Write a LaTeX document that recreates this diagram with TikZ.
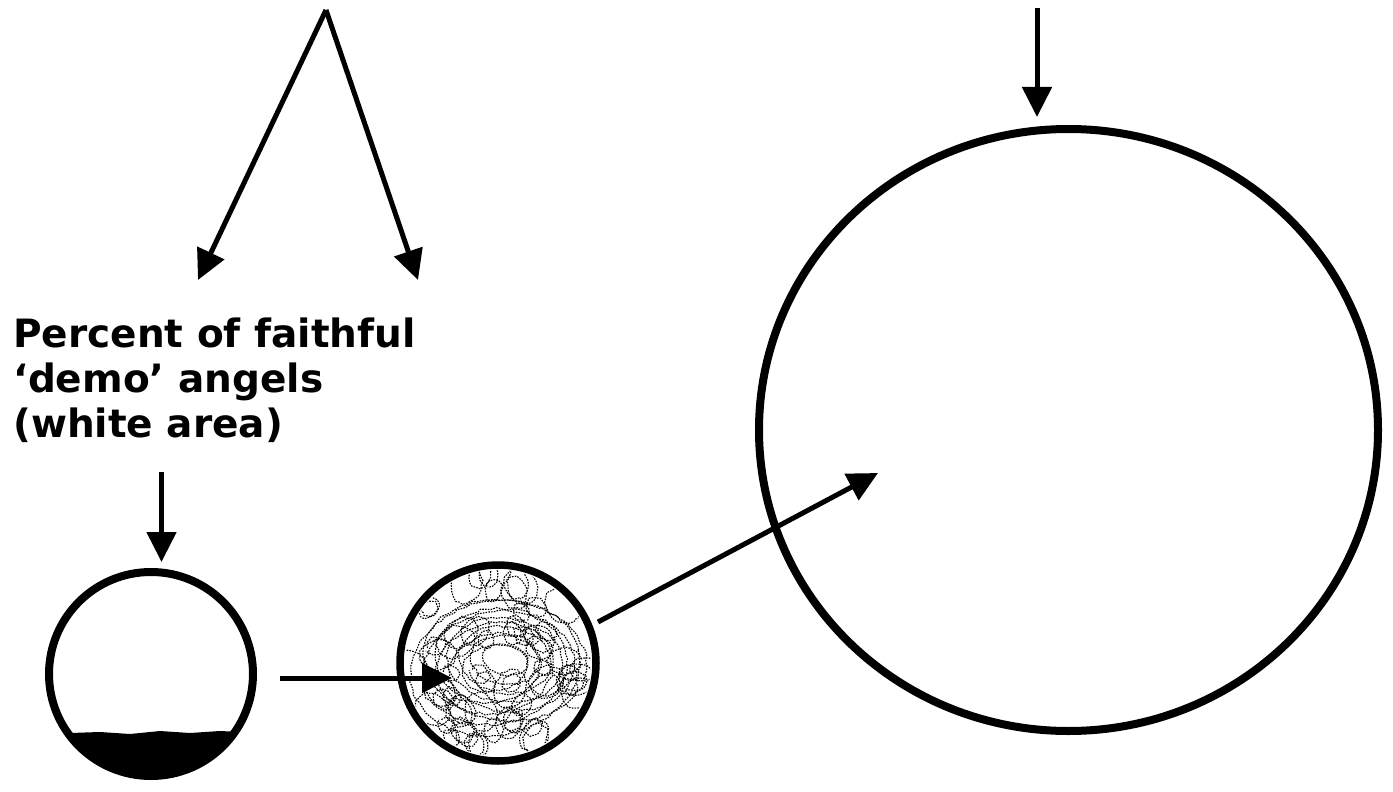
\documentclass[tikz,border=0pt]{standalone}
\usepackage{fontspec}
\setmainfont{DejaVu Sans}
\usetikzlibrary{arrows.meta,shapes.geometric,decorations.pathmorphing}
\begin{document}
\begin{tikzpicture}[x=1pt,y=-1pt,
  arr/.style={line width=5pt,-{Triangle[length=30pt,width=29pt]}},
  ring/.style={draw,circle,inner sep=0pt,outer sep=0pt,line width=8pt},
  scrib/.style={dash pattern=on 1.6pt off 1.2pt,line width=1.1pt,decorate,decoration={random steps,segment length=5pt,amplitude=1.3pt}},
  lbltext/.style={align=left,anchor=north west,inner sep=0pt,font=\bfseries\fontsize{39}{45}\selectfont}]
\useasboundingbox[fill=white] (0,0) rectangle (1393,792);
% circles
\node[ring,minimum size=204pt] (c1) at (151,674) {};
\node[ring,minimum size=196pt,line width=7.5pt] (c2) at (498,663) {};
\node[draw,ellipse,inner sep=0pt,outer sep=0pt,line width=8pt,minimum width=619pt,minimum height=602pt] (c3) at (1068.5,430) {};
% dark fill in small circle
\begin{scope}
  \clip (151,674) circle[radius=101];
  \fill (40,737) -- (70,733) -- (100,732) -- (130,734) -- (160,731) -- (190,733) -- (220,731) -- (262,733) -- (262,800) -- (40,800) -- cycle;
\end{scope}
% scribble inside middle circle
\begin{scope}
  \clip (498,663) circle[radius=93];
  \pgfmathsetseed{12}
  \foreach \i in {1,...,62}{
    \pgfmathsetmacro\aa{rnd*360}
    \pgfmathsetmacro\rr{sqrt(rnd)*90}
    \pgfmathsetmacro\ss{7+rnd*12}
    \draw[scrib] ({498+\rr*cos(\aa)},{663+\rr*sin(\aa)}) circle[x radius=\ss, y radius={\ss*0.8}, rotate=\aa];
  }
  \foreach \k in {1,...,6}{
    \draw[scrib] (505,660) circle[x radius={10+12*\k}, y radius={6+9*\k}, rotate=-8];
  }
  \foreach \k in {1,...,5}{
    \draw[scrib] (495,668) circle[x radius={20+13*\k}, y radius={12+11*\k}, rotate=12];
  }
\end{scope}
% label
\node[lbltext] (lbl) at (13,318) {Percent of faithful\\`demo' angels\\(white area)};
% connectors
\coordinate (apex) at (326,10);
\coordinate (tl) at (198,280);
\coordinate (tr) at (418,280);
\coordinate (t3) at (1037,8);
\coordinate (t3e) at (1037,117);
\coordinate (lb) at (161.5,472);
\coordinate (lbe) at (161.5,562);
\coordinate (h1) at (280,678);
\coordinate (h2) at (452,678);
\coordinate (d1) at (598,622);
\coordinate (d2) at (878,473);
\draw[arr] (apex) -- (tl);
\draw[arr] (apex) -- (tr);
\draw[arr] (t3) -- (t3e);
\draw[arr] (lb) -- (lbe);
\draw[arr] (h1) -- (h2);
\draw[arr] (d1) -- (d2);
\end{tikzpicture}
\end{document}
